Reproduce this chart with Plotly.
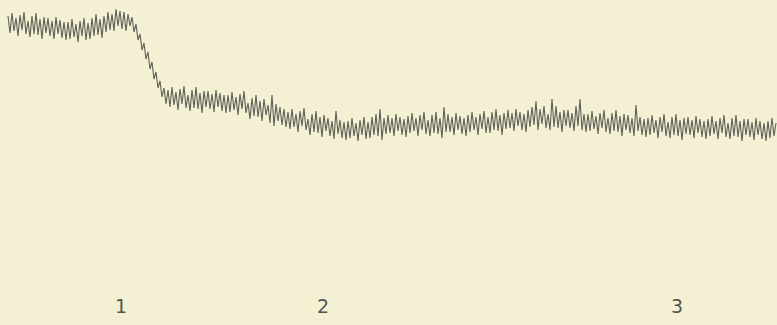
import plotly.graph_objects as go

# Trace height (arbitrary units, up = larger), sampled every 2 units from x=8
x_start = 8
x_step = 2
trace_height = [
    269, 252, 272, 254, 267, 249, 270, 255, 273, 251,
    264, 248, 269, 251, 272, 250, 266, 246, 268, 252,
    267, 249, 264, 246, 268, 251, 265, 247, 263, 245,
    263, 246, 266, 248, 261, 243, 264, 249, 267, 245,
    262, 246, 267, 249, 271, 250, 266, 247, 269, 253,
    273, 255, 271, 254, 276, 259, 274, 256, 273, 254,
    271, 259, 268, 253, 261, 245, 251, 235, 242, 226,
    233, 216, 223, 206, 213, 197, 204, 188, 197, 181,
    195, 178, 198, 180, 193, 175, 196, 181, 199, 177,
    190, 174, 195, 177, 198, 176, 192, 172, 194, 178,
    194, 176, 191, 173, 195, 178, 192, 174, 190, 172,
    190, 173, 193, 175, 188, 170, 191, 176, 194, 172,
    182, 166, 187, 169, 190, 168, 184, 164, 186, 170,
    180, 162, 190, 159, 181, 164, 178, 160, 176, 158,
    173, 156, 176, 158, 171, 153, 174, 159, 177, 155,
    166, 150, 171, 153, 174, 152, 168, 148, 170, 154,
    167, 149, 164, 146, 174, 151, 165, 147, 163, 145,
    164, 147, 167, 149, 162, 144, 165, 150, 168, 146,
    163, 147, 168, 150, 171, 149, 176, 145, 167, 151,
    170, 152, 167, 149, 171, 154, 168, 150, 166, 148,
    169, 152, 172, 154, 167, 149, 170, 155, 173, 151,
    165, 149, 170, 152, 173, 151, 167, 147, 178, 153,
    171, 153, 168, 150, 172, 155, 169, 151, 167, 149,
    170, 153, 173, 155, 168, 150, 171, 156, 174, 152,
    168, 152, 173, 155, 176, 154, 170, 150, 172, 156,
    175, 157, 172, 154, 176, 159, 173, 155, 171, 153,
    175, 158, 178, 160, 184, 155, 176, 161, 179, 157,
    171, 155, 186, 158, 179, 157, 173, 153, 175, 159,
    175, 157, 172, 154, 179, 159, 186, 155, 171, 153,
    171, 154, 174, 156, 169, 151, 172, 157, 175, 153,
    167, 151, 172, 154, 175, 153, 169, 149, 171, 155,
    170, 152, 167, 149, 180, 154, 168, 150, 166, 148,
    167, 150, 170, 152, 165, 147, 168, 153, 171, 149,
    163, 147, 168, 150, 171, 149, 165, 145, 167, 151,
    168, 150, 165, 147, 169, 152, 166, 148, 164, 146,
    166, 149, 169, 151, 164, 146, 167, 152, 170, 148,
    162, 146, 167, 149, 170, 148, 164, 144, 166, 150,
    166, 148, 163, 145, 167, 150, 164, 146, 162, 144,
    164, 147, 167, 149, 162,
]
x_values = [x_start + x_step * i for i in range(len(trace_height))]

tick_positions = [121, 323, 677]
tick_labels = ["1", "2", "3"]

BG = "#f3f0d4"

fig = go.Figure()
fig.add_trace(go.Scatter(
    x=x_values, y=trace_height, mode="lines",
    line=dict(color="rgba(60,60,55,0.8)", width=1.1),
    hoverinfo="skip", showlegend=False,
))

fig.update_layout(
    width=777, height=325,
    margin=dict(l=0, r=0, t=0, b=40),
    paper_bgcolor=BG, plot_bgcolor=BG,
    xaxis=dict(range=[0, 777], showgrid=False, zeroline=False, showline=False,
               tickmode="array", tickvals=tick_positions, ticktext=tick_labels,
               ticks="", ticklabelstandoff=8,
               tickfont=dict(family="DejaVu Sans", size=19, color="#555550")),
    yaxis=dict(range=[0, 285], visible=False, showgrid=False, zeroline=False),
)

fig.write_html(
    "out.html",
    config={"displayModeBar": False},
    post_script="document.body.style.margin='0';document.body.style.padding='0';"
                "document.body.style.background='" + BG + "';",
)
